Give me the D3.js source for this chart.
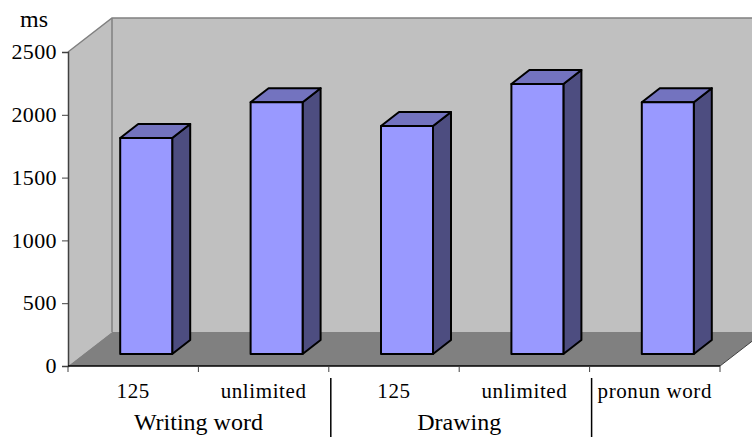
<!DOCTYPE html>
<html>
<head>
<meta charset="utf-8">
<script src="https://cdn.jsdelivr.net/npm/d3@7"></script>
<style>
html,body{margin:0;padding:0;background:#fff}
svg{display:block}
text{font-family:"Liberation Serif",serif;fill:#000}
</style>
</head>
<body>
<svg id="chart" width="752" height="437"></svg>
<script>
const categories = ["125", "unlimited", "125", "unlimited", "pronun word"];
const responseMs = [1720, 2005, 1815, 2150, 2005];
const groups = ["Writing word", "Drawing"];
const yTicks = [0, 500, 1000, 1500, 2000, 2500];

const svg = d3.select("#chart");
const H = 437;

// Plot frame and the oblique offset of the 3D box
const x0 = 68, x1 = 720, yBase = 366, yTop = 52;
const depth = {x: 44, y: 34};
const barDepth = {x: 18, y: 14};
const barOffset = {x: 13, y: 12};
const barW = 52;

const y = d3.scaleLinear().domain([0, 2500]).range([yBase, yTop]);
const x = d3.scaleBand().domain(d3.range(categories.length)).range([x0, x1]);
const poly = pts => pts.map(p => p.join(",")).join(" ");

// Walls and floor
svg.append("polygon")
  .attr("points", poly([[x0, yTop], [x0 + depth.x, yTop - depth.y], [x0 + depth.x, yBase - depth.y], [x0, yBase]]))
  .attr("fill", "#c0c0c0");
svg.append("polygon")
  .attr("points", poly([[x0 + depth.x, yTop - depth.y], [x1 + depth.x, yTop - depth.y], [x1 + depth.x, yBase - depth.y], [x0 + depth.x, yBase - depth.y]]))
  .attr("fill", "#c0c0c0");
svg.append("polygon")
  .attr("points", poly([[x0, yBase], [x0 + depth.x, yBase - depth.y], [x1 + depth.x, yBase - depth.y], [x1, yBase]]))
  .attr("fill", "#808080");
svg.append("polyline")
  .attr("points", poly([[x0, yTop], [x0 + depth.x, yTop - depth.y], [x1 + depth.x, yTop - depth.y]]))
  .attr("fill", "none").attr("stroke", "#808080").attr("stroke-width", 1.5);
svg.append("line")
  .attr("x1", x0 + depth.x).attr("x2", x0 + depth.x)
  .attr("y1", yTop - depth.y).attr("y2", yBase - depth.y)
  .attr("stroke", "#808080").attr("stroke-width", 1.5);
svg.append("line")
  .attr("x1", x1).attr("x2", x1 + depth.x)
  .attr("y1", yBase).attr("y2", yBase - depth.y)
  .attr("stroke", "#404040").attr("stroke-width", 1);

// Bars: front, top and side faces
const bars = svg.append("g").selectAll("g").data(responseMs).join("g");
const edge = sel => sel.attr("stroke", "#000").attr("stroke-width", 2).attr("stroke-linejoin", "round");
const left = (d, i) => x(i) + x.bandwidth() / 2 + barOffset.x - barW / 2;
const topY = d => y(d) - barOffset.y;
const bottomY = () => y(0) - barOffset.y;

bars.append("polygon").call(edge).attr("fill", "#4d4d80")
  .attr("points", (d, i) => {
    const r = left(d, i) + barW;
    return poly([[r, topY(d)], [r + barDepth.x, topY(d) - barDepth.y], [r + barDepth.x, bottomY() - barDepth.y], [r, bottomY()]]);
  });
bars.append("polygon").call(edge).attr("fill", "#7373bf")
  .attr("points", (d, i) => {
    const l = left(d, i), r = l + barW;
    return poly([[l, topY(d)], [l + barDepth.x, topY(d) - barDepth.y], [r + barDepth.x, topY(d) - barDepth.y], [r, topY(d)]]);
  });
bars.append("rect").call(edge).attr("fill", "#9999ff")
  .attr("x", left).attr("width", barW)
  .attr("y", topY).attr("height", d => bottomY() - topY(d));

// Value axis
const yAxis = svg.append("g").attr("transform", `translate(${x0},0)`)
  .call(d3.axisLeft(y).tickValues(yTicks).tickSize(6).tickFormat(d3.format("d")));
yAxis.selectAll(".domain").attr("stroke", "#404040").attr("stroke-width", 1.5);
yAxis.selectAll("line").attr("stroke", "#404040");
yAxis.selectAll("text")
  .attr("font-size", 22).style("letter-spacing", "0.4px")
  .attr("x", -11).attr("dy", "0.3em")
  .attr("font-family", "Liberation Serif").attr("fill", "#000");

svg.append("text").attr("x", 20).attr("y", 27).attr("font-size", 24).text("ms");

// Category axis with tick marks at the band edges
const edges = d3.range(categories.length + 1).map(i => i < categories.length ? x(i) : x1);
svg.append("line").attr("x1", x0).attr("x2", x1).attr("y1", yBase).attr("y2", yBase)
  .attr("stroke", "#000").attr("stroke-width", 1.5);
svg.append("g").selectAll("line").data(edges).join("line")
  .attr("x1", d => d).attr("x2", d => d)
  .attr("y1", yBase).attr("y2", yBase + 6)
  .attr("stroke", "#404040");

svg.append("g").selectAll("text").data(categories).join("text")
  .attr("x", (d, i) => x(i) + x.bandwidth() / 2)
  .attr("y", 398)
  .attr("text-anchor", "middle")
  .attr("font-size", 21)
  .style("letter-spacing", "0.6px")
  .text(d => d);

// Group labels and separators under the categories
svg.append("g").selectAll("text").data(groups).join("text")
  .attr("x", (d, i) => x(i * 2) + x.bandwidth())
  .attr("y", 430)
  .attr("text-anchor", "middle")
  .attr("font-size", 24)
  .text(d => d);
svg.append("g").selectAll("line").data([2, 4]).join("line")
  .attr("x1", d => x(d) + 2).attr("x2", d => x(d) + 2)
  .attr("y1", 378).attr("y2", H)
  .attr("stroke", "#000").attr("stroke-width", 1.5);
</script>
</body>
</html>
